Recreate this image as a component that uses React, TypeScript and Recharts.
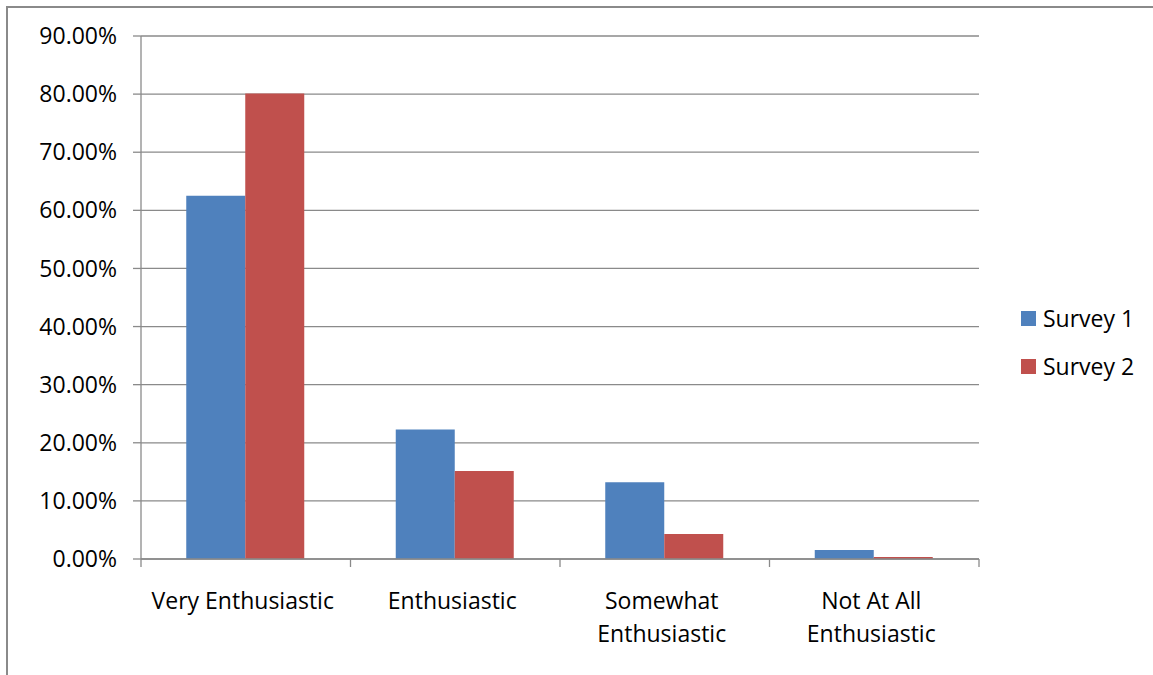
import React from 'react';
import { BarChart, Bar, XAxis, YAxis, CartesianGrid, Legend } from 'recharts';

const categories = ['Very Enthusiastic', 'Enthusiastic', 'Somewhat Enthusiastic', 'Not At All Enthusiastic'];
const survey1 = [62.5, 22.3, 13.2, 1.55];
const survey2 = [80.1, 15.15, 4.3, 0.35];
const yTicks = [0, 10, 20, 30, 40, 50, 60, 70, 80, 90];

const data = categories.map((c, i) => ({ name: c, s1: survey1[i], s2: survey2[i] }));

const FONT = '"Open Sans", sans-serif';
const GRAY = '#8a8a8a';

const splitLabel = (s: string): string[] => {
  const words = s.split(' ');
  if (s.length > 18 && words.length > 1) {
    return [words.slice(0, -1).join(' '), words[words.length - 1]];
  }
  return [s];
};

const CategoryTick = (props: any) => {
  const { x, y, payload, width, visibleTicksCount, index } = props;
  const lines = splitLabel(String(payload.value));
  const band = width / (visibleTicksCount || categories.length);
  const isLast = index === (visibleTicksCount || categories.length) - 1;
  return (
    <g>
      <line x1={x - band / 2} x2={x - band / 2} y1={y} y2={y + 8} stroke={GRAY} strokeWidth={1.3} />
      {isLast && <line x1={x + band / 2} x2={x + band / 2} y1={y} y2={y + 8} stroke={GRAY} strokeWidth={1.3} />}
      <text x={x} y={y} textAnchor="middle" fontFamily={FONT} fontSize={23} fill="#000">
        {lines.map((l, i) => (
          <tspan key={i} x={x - 3} dy={i === 0 ? 50 : 32.5}>
            {l}
          </tspan>
        ))}
      </text>
    </g>
  );
};

const LegendContent = (props: any) => {
  const { payload } = props;
  return (
    <div style={{ display: 'flex', flexDirection: 'column' }}>
      {(payload || []).map((p: any, i: number) => (
        <div key={i} style={{ display: 'flex', alignItems: 'center', height: 48 }}>
          <div style={{ width: 15, height: 15, background: p.color, marginRight: 7 }} />
          <span style={{ fontFamily: FONT, fontSize: 23, color: '#000', lineHeight: '48px' }}>{p.value}</span>
        </div>
      ))}
    </div>
  );
};

export default function App() {
  return (
    <div style={{ position: 'absolute', left: 0, top: 0, width: 1153, height: 675, background: '#fff', overflow: 'hidden' }}>
      <div
        style={{
          position: 'absolute',
          left: 6,
          top: 6,
          width: 1200,
          height: 700,
          borderLeft: `2px solid ${GRAY}`,
          borderTop: `2px solid ${GRAY}`,
        }}
      />
      <div style={{ position: 'absolute', left: 0, top: 0 }}>
        <BarChart
          width={1153}
          height={675}
          data={data}
          margin={{ top: 36, right: 174, left: 0, bottom: 16 }}
          barCategoryGap="21.6%"
          barGap={0}
        >
          <CartesianGrid vertical={false} stroke={GRAY} strokeWidth={1.3} />
          <XAxis
            dataKey="name"
            interval={0}
            tickLine={false}
            axisLine={{ stroke: GRAY, strokeWidth: 1.3 }}
            tickSize={0}
            tickMargin={0}
            height={100}
            tick={<CategoryTick />}
          />
          <YAxis
            width={141}
            domain={[0, 90]}
            ticks={yTicks}
            interval={0}
            tickSize={8}
            tickMargin={16}
            tickFormatter={(v: number) => `${v.toFixed(2)}%`}
            tick={{ fontFamily: FONT, fontSize: 23, fill: '#000' }}
            tickLine={{ stroke: GRAY, strokeWidth: 1.3 }}
            axisLine={{ stroke: GRAY, strokeWidth: 1.3 }}
          />
          <Legend
            verticalAlign="middle"
            align="center"
            layout="vertical"
            content={<LegendContent />}
            wrapperStyle={{ left: 1021, top: 294, width: 130 }}
          />
          <Bar dataKey="s1" name="Survey 1" fill="#4F81BD" isAnimationActive={false} />
          <Bar dataKey="s2" name="Survey 2" fill="#C0504D" isAnimationActive={false} />
        </BarChart>
      </div>
    </div>
  );
}
